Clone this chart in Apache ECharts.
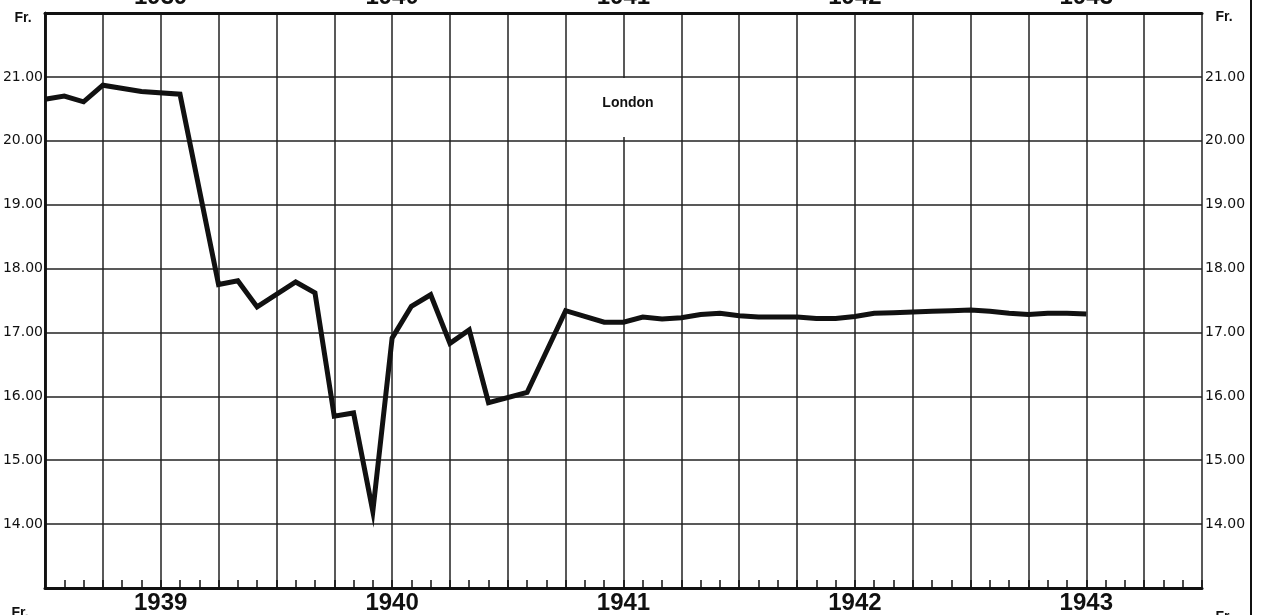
<!DOCTYPE html>
<html>
<head>
<meta charset="utf-8">
<script src="https://cdn.jsdelivr.net/npm/echarts@6/dist/echarts.min.js"></script>
<style>
html,body{margin:0;padding:0;background:#fff;}
#c{width:1262px;height:615px;}
</style>
</head>
<body>
<div id="c"></div>
<script>
// months since Jan 1939 (0 = Jan 1939)
const months = [0,1,2,3,5,7,9,10,11,13,14,15,16,17,18,19,20,21,22,23,25,27,29,30,31,32,33,34,35,36,37,38,39,40,41,42,43,44,45,46,47,48,49,50,51,52,53,54];
// London rate, Swiss francs per pound
const values = [20.65,20.70,20.61,20.87,20.77,20.73,17.75,17.81,17.40,17.79,17.62,15.69,15.74,14.20,16.91,17.41,17.59,16.83,17.04,15.90,16.06,17.34,17.16,17.16,17.24,17.21,17.23,17.28,17.30,17.26,17.24,17.24,17.24,17.22,17.22,17.25,17.30,17.31,17.32,17.33,17.34,17.35,17.33,17.30,17.28,17.30,17.30,17.29];
const years = [1939,1940,1941,1942,1943];
const yTicks = [14,15,16,17,18,19,20,21];
const seriesName = 'London';
const unit = 'Fr.';

const ink = '#111';
const yearFmt = v => { const i = years.indexOf(1939 + (v - 6) / 12); return (v - 6) % 12 === 0 && i >= 0 ? String(years[i]) : ''; };
const yFmt = v => yTicks.indexOf(v) >= 0 ? v.toFixed(2) : '';

const chart = echarts.init(document.getElementById('c'), null, {renderer:'canvas'});
const yearLabel = {fontFamily:'Liberation Sans', fontWeight:'bold', fontSize:24, color:ink};
const valLabel = {fontFamily:'DejaVu Sans', fontSize:14, color:ink};
const gridLine = {show:true, lineStyle:{color:'#222', width:1.5}};
const border = {show:true, lineStyle:{color:ink, width:2.5}};

chart.setOption({
  backgroundColor:'#fff',
  animation:false,
  grid:{left:45, right:60, top:13, bottom:27, containLabel:false, outerBoundsMode:'none'},
  xAxis:[
    {type:'value', position:'bottom', min:0, max:60, interval:3,
     axisLine:{show:true, onZero:false, lineStyle:{color:ink, width:3}},
     axisTick:{show:true, inside:true, length:8, lineStyle:{color:ink, width:1.5}},
     minorTick:{show:true, splitNumber:3, length:8, lineStyle:{color:ink, width:1.5}},
     splitLine:gridLine,
     axisLabel:Object.assign({margin:3, formatter:yearFmt, showMinLabel:true, showMaxLabel:true}, yearLabel)},
    {type:'value', position:'top', min:0, max:60, interval:3,
     axisLine:{show:true, onZero:false, lineStyle:{color:ink, width:3}},
     axisTick:{show:false}, splitLine:{show:false},
     axisLabel:Object.assign({margin:4, formatter:yearFmt}, yearLabel)}
  ],
  yAxis:[
    {type:'value', position:'left', min:13, max:22, interval:1,
     axisLine:border, axisTick:{show:false}, splitLine:gridLine,
     axisLabel:Object.assign({margin:2, formatter:yFmt}, valLabel)},
    {type:'value', position:'right', min:13, max:22, interval:1,
     axisLine:border, axisTick:{show:false}, splitLine:{show:false},
     axisLabel:Object.assign({margin:3, formatter:yFmt}, valLabel)}
  ],
  series:[{
    type:'line', name:seriesName, xAxisIndex:0, yAxisIndex:0,
    data: months.map((m,i)=>[m, values[i]]),
    showSymbol:false, symbol:'none', smooth:false,
    lineStyle:{color:ink, width:5, join:'miter', cap:'butt'},
    z:5
  }],
  graphic:[
    {type:'rect', shape:{x:592, y:78, width:72, height:59}, style:{fill:'#fff'}, z:3},
    {type:'text', x:628, y:103, z:4, style:{text:seriesName, font:'bold 14px "Liberation Sans"', fill:ink, textAlign:'center', textVerticalAlign:'middle'}},
    {type:'text', x:23, y:18, style:{text:unit, font:'bold 14px "Liberation Sans"', fill:ink, textAlign:'center', textVerticalAlign:'middle'}},
    {type:'text', x:1224, y:17, style:{text:unit, font:'bold 14px "Liberation Sans"', fill:ink, textAlign:'center', textVerticalAlign:'middle'}},
    {type:'text', x:20, y:606, style:{text:unit, font:'bold 14px "Liberation Sans"', fill:ink, textAlign:'center', textVerticalAlign:'top'}},
    {type:'text', x:1224, y:610, style:{text:unit, font:'bold 14px "Liberation Sans"', fill:ink, textAlign:'center', textVerticalAlign:'top'}},
    {type:'line', shape:{x1:1251, y1:0, x2:1251, y2:615}, style:{stroke:ink, lineWidth:2}}
  ]
});
</script>
</body>
</html>
